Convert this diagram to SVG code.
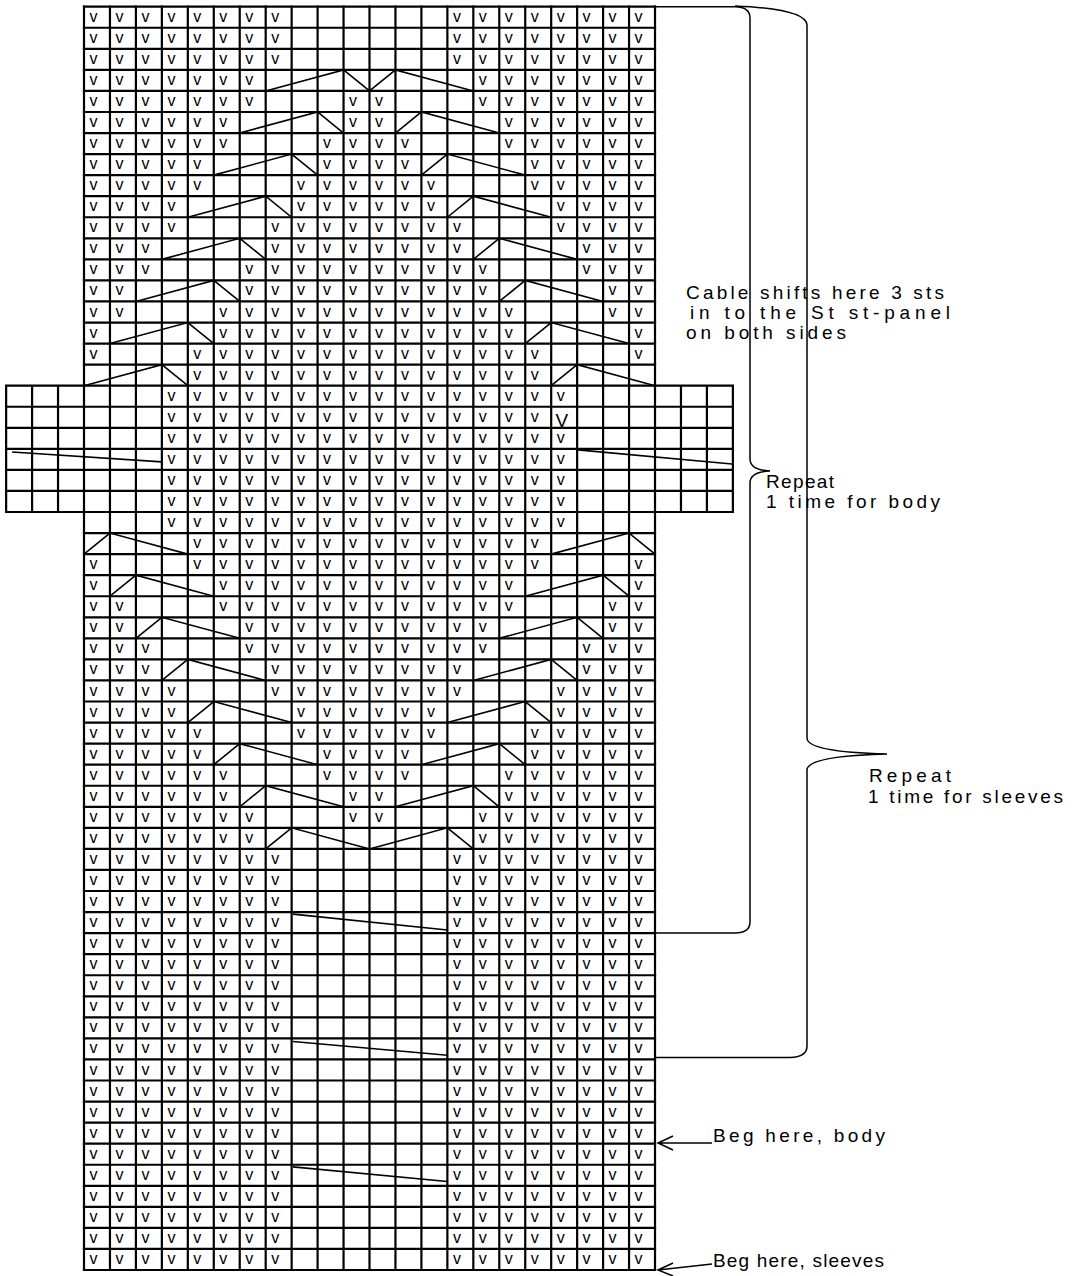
<svg xmlns="http://www.w3.org/2000/svg" width="1078" height="1276" viewBox="0 0 1078 1276">
<style>
.v{font-family:"Liberation Sans",Arial,sans-serif;font-size:16px;fill:#000}
.lbl{font-family:"Liberation Sans",Arial,sans-serif;font-size:19px;fill:#000}
.grid{fill:none;stroke:#000;stroke-width:2.2;stroke-linecap:square;vector-effect:non-scaling-stroke}
.cab{fill:none;stroke:#000;stroke-width:1.6;stroke-linejoin:miter;vector-effect:non-scaling-stroke}
.br{fill:none;stroke:#000;stroke-width:1.5}
</style>
<rect width="1078" height="1276" fill="#fff"/>
<g id="chart-grid" transform="translate(84,6.7) scale(25.955,21.055)">
<path class="grid" d="M0 0H22M0 1H22M0 2H22M0 3H22M0 4H22M0 5H22M0 6H22M0 7H22M0 8H22M0 9H22M0 10H22M0 11H22M0 12H22M0 13H22M0 14H22M0 15H22M0 16H22M0 17H22M0 18H22M0 19H22M0 20H22M0 21H22M0 22H22M0 23H22M0 24H22M0 25H22M0 26H22M0 27H22M0 28H22M0 29H22M0 30H22M0 31H22M0 32H22M0 33H22M0 34H22M0 35H22M0 36H22M0 37H22M0 38H22M0 39H22M0 40H22M0 41H22M0 42H22M0 43H22M0 44H22M0 45H22M0 46H22M0 47H22M0 48H22M0 49H22M0 50H22M0 51H22M0 52H22M0 53H22M0 54H22M0 55H22M0 56H22M0 57H22M0 58H22M0 59H22M0 60H22"/>
<path class="grid" d="M0 0V60M1 0V60M2 0V60M3 0V60M4 0V60M5 0V60M6 0V60M7 0V60M8 0V60M9 0V60M10 0V60M11 0V60M12 0V60M13 0V60M14 0V60M15 0V60M16 0V60M17 0V60M18 0V60M19 0V60M20 0V60M21 0V60M22 0V60"/>
<path class="grid" d="M-3 18H0M-3 19H0M-3 20H0M-3 21H0M-3 22H0M-3 23H0M-3 24H0M22 18H25M22 19H25M22 20H25M22 21H25M22 22H25M22 23H25M22 24H25M-3 18V24M-2 18V24M-1 18V24M23 18V24M24 18V24M25 18V24"/>
</g>
<g id="cables" transform="translate(84,6.7) scale(25.955,21.055)">
<path class="cab" d="M7 4L10 3L11 4M11 4L12 3L15 4M6 6L9 5L10 6M12 6L13 5L16 6M5 8L8 7L9 8M13 8L14 7L17 8M4 10L7 9L8 10M14 10L15 9L18 10M3 12L6 11L7 12M15 12L16 11L19 12M2 14L5 13L6 14M16 14L17 13L20 14M1 16L4 15L5 16M17 16L18 15L21 16M0 18L3 17L4 18M18 18L19 17L22 18"/>
<path class="cab" d="M-2.77 21.15L3.0 21.62M19.03 21.05L24.97 21.72"/>
<path class="cab" d="M0 26L1 25L4 26M18 26L21 25L22 26M1 28L2 27L5 28M17 28L20 27L21 28M2 30L3 29L6 30M16 30L19 29L20 30M3 32L4 31L7 32M15 32L18 31L19 32M4 34L5 33L8 34M14 34L17 33L18 34M5 36L6 35L9 36M13 36L16 35L17 36M6 38L7 37L10 38M12 38L15 37L16 38M7 40L8 39L11 40M11 40L14 39L15 40"/>
<path class="cab" d="M8.05 43.1L14 43.85M8.05 49.15L14 49.8M8.05 55.1L14 55.8"/>
</g>
<g id="stitches">
<text class="v" y="21.7" x="89.5 115.5 141.4 167.4 193.3 219.3 245.2 271.2 452.9 478.8 504.8 530.7 556.7 582.6 608.6 634.6">vvvvvvvvvvvvvvvv</text>
<text class="v" y="42.8" x="89.5 115.5 141.4 167.4 193.3 219.3 245.2 271.2 452.9 478.8 504.8 530.7 556.7 582.6 608.6 634.6">vvvvvvvvvvvvvvvv</text>
<text class="v" y="63.8" x="89.5 115.5 141.4 167.4 193.3 219.3 245.2 271.2 452.9 478.8 504.8 530.7 556.7 582.6 608.6 634.6">vvvvvvvvvvvvvvvv</text>
<text class="v" y="84.9" x="89.5 115.5 141.4 167.4 193.3 219.3 245.2 478.8 504.8 530.7 556.7 582.6 608.6 634.6">vvvvvvvvvvvvvv</text>
<text class="v" y="105.9" x="89.5 115.5 141.4 167.4 193.3 219.3 245.2 349.1 375.0 478.8 504.8 530.7 556.7 582.6 608.6 634.6">vvvvvvvvvvvvvvvv</text>
<text class="v" y="127.0" x="89.5 115.5 141.4 167.4 193.3 219.3 349.1 375.0 504.8 530.7 556.7 582.6 608.6 634.6">vvvvvvvvvvvvvv</text>
<text class="v" y="148.0" x="89.5 115.5 141.4 167.4 193.3 219.3 323.1 349.1 375.0 401.0 504.8 530.7 556.7 582.6 608.6 634.6">vvvvvvvvvvvvvvvv</text>
<text class="v" y="169.1" x="89.5 115.5 141.4 167.4 193.3 323.1 349.1 375.0 401.0 530.7 556.7 582.6 608.6 634.6">vvvvvvvvvvvvvv</text>
<text class="v" y="190.1" x="89.5 115.5 141.4 167.4 193.3 297.1 323.1 349.1 375.0 401.0 426.9 530.7 556.7 582.6 608.6 634.6">vvvvvvvvvvvvvvvv</text>
<text class="v" y="211.2" x="89.5 115.5 141.4 167.4 297.1 323.1 349.1 375.0 401.0 426.9 556.7 582.6 608.6 634.6">vvvvvvvvvvvvvv</text>
<text class="v" y="232.3" x="89.5 115.5 141.4 167.4 271.2 297.1 323.1 349.1 375.0 401.0 426.9 452.9 556.7 582.6 608.6 634.6">vvvvvvvvvvvvvvvv</text>
<text class="v" y="253.3" x="89.5 115.5 141.4 271.2 297.1 323.1 349.1 375.0 401.0 426.9 452.9 582.6 608.6 634.6">vvvvvvvvvvvvvv</text>
<text class="v" y="274.4" x="89.5 115.5 141.4 245.2 271.2 297.1 323.1 349.1 375.0 401.0 426.9 452.9 478.8 582.6 608.6 634.6">vvvvvvvvvvvvvvvv</text>
<text class="v" y="295.4" x="89.5 115.5 245.2 271.2 297.1 323.1 349.1 375.0 401.0 426.9 452.9 478.8 608.6 634.6">vvvvvvvvvvvvvv</text>
<text class="v" y="316.5" x="89.5 115.5 219.3 245.2 271.2 297.1 323.1 349.1 375.0 401.0 426.9 452.9 478.8 504.8 608.6 634.6">vvvvvvvvvvvvvvvv</text>
<text class="v" y="337.5" x="89.5 219.3 245.2 271.2 297.1 323.1 349.1 375.0 401.0 426.9 452.9 478.8 504.8 634.6">vvvvvvvvvvvvvv</text>
<text class="v" y="358.6" x="89.5 193.3 219.3 245.2 271.2 297.1 323.1 349.1 375.0 401.0 426.9 452.9 478.8 504.8 530.7 634.6">vvvvvvvvvvvvvvvv</text>
<text class="v" y="379.6" x="193.3 219.3 245.2 271.2 297.1 323.1 349.1 375.0 401.0 426.9 452.9 478.8 504.8 530.7">vvvvvvvvvvvvvv</text>
<text class="v" y="400.7" x="167.4 193.3 219.3 245.2 271.2 297.1 323.1 349.1 375.0 401.0 426.9 452.9 478.8 504.8 530.7 556.7">vvvvvvvvvvvvvvvv</text>
<text class="v" y="421.8" x="167.4 193.3 219.3 245.2 271.2 297.1 323.1 349.1 375.0 401.0 426.9 452.9 478.8 504.8 530.7">vvvvvvvvvvvvvvv</text>
<text class="v" y="426.5" x="555.5" style="font-size:19px">V</text>
<text class="v" y="442.8" x="167.4 193.3 219.3 245.2 271.2 297.1 323.1 349.1 375.0 401.0 426.9 452.9 478.8 504.8 530.7 556.7">vvvvvvvvvvvvvvvv</text>
<text class="v" y="463.9" x="167.4 193.3 219.3 245.2 271.2 297.1 323.1 349.1 375.0 401.0 426.9 452.9 478.8 504.8 530.7 556.7">vvvvvvvvvvvvvvvv</text>
<text class="v" y="484.9" x="167.4 193.3 219.3 245.2 271.2 297.1 323.1 349.1 375.0 401.0 426.9 452.9 478.8 504.8 530.7 556.7">vvvvvvvvvvvvvvvv</text>
<text class="v" y="506.0" x="167.4 193.3 219.3 245.2 271.2 297.1 323.1 349.1 375.0 401.0 426.9 452.9 478.8 504.8 530.7 556.7">vvvvvvvvvvvvvvvv</text>
<text class="v" y="527.0" x="167.4 193.3 219.3 245.2 271.2 297.1 323.1 349.1 375.0 401.0 426.9 452.9 478.8 504.8 530.7 556.7">vvvvvvvvvvvvvvvv</text>
<text class="v" y="548.1" x="193.3 219.3 245.2 271.2 297.1 323.1 349.1 375.0 401.0 426.9 452.9 478.8 504.8 530.7">vvvvvvvvvvvvvv</text>
<text class="v" y="569.1" x="89.5 193.3 219.3 245.2 271.2 297.1 323.1 349.1 375.0 401.0 426.9 452.9 478.8 504.8 530.7 634.6">vvvvvvvvvvvvvvvv</text>
<text class="v" y="590.2" x="89.5 219.3 245.2 271.2 297.1 323.1 349.1 375.0 401.0 426.9 452.9 478.8 504.8 634.6">vvvvvvvvvvvvvv</text>
<text class="v" y="611.2" x="89.5 115.5 219.3 245.2 271.2 297.1 323.1 349.1 375.0 401.0 426.9 452.9 478.8 504.8 608.6 634.6">vvvvvvvvvvvvvvvv</text>
<text class="v" y="632.3" x="89.5 115.5 245.2 271.2 297.1 323.1 349.1 375.0 401.0 426.9 452.9 478.8 608.6 634.6">vvvvvvvvvvvvvv</text>
<text class="v" y="653.4" x="89.5 115.5 141.4 245.2 271.2 297.1 323.1 349.1 375.0 401.0 426.9 452.9 478.8 582.6 608.6 634.6">vvvvvvvvvvvvvvvv</text>
<text class="v" y="674.4" x="89.5 115.5 141.4 271.2 297.1 323.1 349.1 375.0 401.0 426.9 452.9 582.6 608.6 634.6">vvvvvvvvvvvvvv</text>
<text class="v" y="695.5" x="89.5 115.5 141.4 167.4 271.2 297.1 323.1 349.1 375.0 401.0 426.9 452.9 556.7 582.6 608.6 634.6">vvvvvvvvvvvvvvvv</text>
<text class="v" y="716.5" x="89.5 115.5 141.4 167.4 297.1 323.1 349.1 375.0 401.0 426.9 556.7 582.6 608.6 634.6">vvvvvvvvvvvvvv</text>
<text class="v" y="737.6" x="89.5 115.5 141.4 167.4 193.3 297.1 323.1 349.1 375.0 401.0 426.9 530.7 556.7 582.6 608.6 634.6">vvvvvvvvvvvvvvvv</text>
<text class="v" y="758.6" x="89.5 115.5 141.4 167.4 193.3 323.1 349.1 375.0 401.0 530.7 556.7 582.6 608.6 634.6">vvvvvvvvvvvvvv</text>
<text class="v" y="779.7" x="89.5 115.5 141.4 167.4 193.3 219.3 323.1 349.1 375.0 401.0 504.8 530.7 556.7 582.6 608.6 634.6">vvvvvvvvvvvvvvvv</text>
<text class="v" y="800.7" x="89.5 115.5 141.4 167.4 193.3 219.3 349.1 375.0 504.8 530.7 556.7 582.6 608.6 634.6">vvvvvvvvvvvvvv</text>
<text class="v" y="821.8" x="89.5 115.5 141.4 167.4 193.3 219.3 245.2 349.1 375.0 478.8 504.8 530.7 556.7 582.6 608.6 634.6">vvvvvvvvvvvvvvvv</text>
<text class="v" y="842.9" x="89.5 115.5 141.4 167.4 193.3 219.3 245.2 478.8 504.8 530.7 556.7 582.6 608.6 634.6">vvvvvvvvvvvvvv</text>
<text class="v" y="863.9" x="89.5 115.5 141.4 167.4 193.3 219.3 245.2 271.2 452.9 478.8 504.8 530.7 556.7 582.6 608.6 634.6">vvvvvvvvvvvvvvvv</text>
<text class="v" y="885.0" x="89.5 115.5 141.4 167.4 193.3 219.3 245.2 271.2 452.9 478.8 504.8 530.7 556.7 582.6 608.6 634.6">vvvvvvvvvvvvvvvv</text>
<text class="v" y="906.0" x="89.5 115.5 141.4 167.4 193.3 219.3 245.2 271.2 452.9 478.8 504.8 530.7 556.7 582.6 608.6 634.6">vvvvvvvvvvvvvvvv</text>
<text class="v" y="927.1" x="89.5 115.5 141.4 167.4 193.3 219.3 245.2 271.2 452.9 478.8 504.8 530.7 556.7 582.6 608.6 634.6">vvvvvvvvvvvvvvvv</text>
<text class="v" y="948.1" x="89.5 115.5 141.4 167.4 193.3 219.3 245.2 271.2 452.9 478.8 504.8 530.7 556.7 582.6 608.6 634.6">vvvvvvvvvvvvvvvv</text>
<text class="v" y="969.2" x="89.5 115.5 141.4 167.4 193.3 219.3 245.2 271.2 452.9 478.8 504.8 530.7 556.7 582.6 608.6 634.6">vvvvvvvvvvvvvvvv</text>
<text class="v" y="990.2" x="89.5 115.5 141.4 167.4 193.3 219.3 245.2 271.2 452.9 478.8 504.8 530.7 556.7 582.6 608.6 634.6">vvvvvvvvvvvvvvvv</text>
<text class="v" y="1011.3" x="89.5 115.5 141.4 167.4 193.3 219.3 245.2 271.2 452.9 478.8 504.8 530.7 556.7 582.6 608.6 634.6">vvvvvvvvvvvvvvvv</text>
<text class="v" y="1032.3" x="89.5 115.5 141.4 167.4 193.3 219.3 245.2 271.2 452.9 478.8 504.8 530.7 556.7 582.6 608.6 634.6">vvvvvvvvvvvvvvvv</text>
<text class="v" y="1053.4" x="89.5 115.5 141.4 167.4 193.3 219.3 245.2 271.2 452.9 478.8 504.8 530.7 556.7 582.6 608.6 634.6">vvvvvvvvvvvvvvvv</text>
<text class="v" y="1074.5" x="89.5 115.5 141.4 167.4 193.3 219.3 245.2 271.2 452.9 478.8 504.8 530.7 556.7 582.6 608.6 634.6">vvvvvvvvvvvvvvvv</text>
<text class="v" y="1095.5" x="89.5 115.5 141.4 167.4 193.3 219.3 245.2 271.2 452.9 478.8 504.8 530.7 556.7 582.6 608.6 634.6">vvvvvvvvvvvvvvvv</text>
<text class="v" y="1116.6" x="89.5 115.5 141.4 167.4 193.3 219.3 245.2 271.2 452.9 478.8 504.8 530.7 556.7 582.6 608.6 634.6">vvvvvvvvvvvvvvvv</text>
<text class="v" y="1137.6" x="89.5 115.5 141.4 167.4 193.3 219.3 245.2 271.2 452.9 478.8 504.8 530.7 556.7 582.6 608.6 634.6">vvvvvvvvvvvvvvvv</text>
<text class="v" y="1158.7" x="89.5 115.5 141.4 167.4 193.3 219.3 245.2 271.2 452.9 478.8 504.8 530.7 556.7 582.6 608.6 634.6">vvvvvvvvvvvvvvvv</text>
<text class="v" y="1179.7" x="89.5 115.5 141.4 167.4 193.3 219.3 245.2 271.2 452.9 478.8 504.8 530.7 556.7 582.6 608.6 634.6">vvvvvvvvvvvvvvvv</text>
<text class="v" y="1200.8" x="89.5 115.5 141.4 167.4 193.3 219.3 245.2 271.2 452.9 478.8 504.8 530.7 556.7 582.6 608.6 634.6">vvvvvvvvvvvvvvvv</text>
<text class="v" y="1221.8" x="89.5 115.5 141.4 167.4 193.3 219.3 245.2 271.2 452.9 478.8 504.8 530.7 556.7 582.6 608.6 634.6">vvvvvvvvvvvvvvvv</text>
<text class="v" y="1242.9" x="89.5 115.5 141.4 167.4 193.3 219.3 245.2 271.2 452.9 478.8 504.8 530.7 556.7 582.6 608.6 634.6">vvvvvvvvvvvvvvvv</text>
<text class="v" y="1264.0" x="89.5 115.5 141.4 167.4 193.3 219.3 245.2 271.2 452.9 478.8 504.8 530.7 556.7 582.6 608.6 634.6">vvvvvvvvvvvvvvvv</text>
</g>
<g id="connectors">
<path class="br" d="M655,6.7 H735 Q750,7 750,18 V459 Q750,470 770,471 Q750,472 750,483 V922 Q750,933 735,933 H655"/>
<path class="br" d="M735,6 Q806,9 807,25 V738 Q807,752 887,754 Q807,756 807,770 V1046 Q807,1057 790,1057.5 H655"/>
<path class="br" d="M712,1143 H658 M673,1136 L658,1143 L673,1150"/>
<path class="br" d="M712,1264 L658,1270 M673,1263 L658,1270 L673,1276"/>
</g>
<g id="note-cable">
<text class="lbl" x="686" y="299" textLength="258">Cable shifts here 3 sts</text>
<text class="lbl" x="690" y="319" textLength="260">in to the St st-panel</text>
<text class="lbl" x="686" y="339" textLength="160">on both sides</text>
</g>
<g id="note-body">
<text class="lbl" x="766" y="488" textLength="68">Repeat</text>
<text class="lbl" x="766" y="508" textLength="174">1 time for body</text>
</g>
<g id="note-sleeves">
<text class="lbl" x="869" y="782" textLength="82">Repeat</text>
<text class="lbl" x="868" y="803" textLength="195">1 time for sleeves</text>
</g>
<g id="note-beg-body">
<text class="lbl" x="713" y="1142" textLength="172">Beg here, body</text>
</g>
<g id="note-beg-sleeves">
<text class="lbl" x="713" y="1267" textLength="171">Beg here, sleeves</text>
</g>
</svg>
